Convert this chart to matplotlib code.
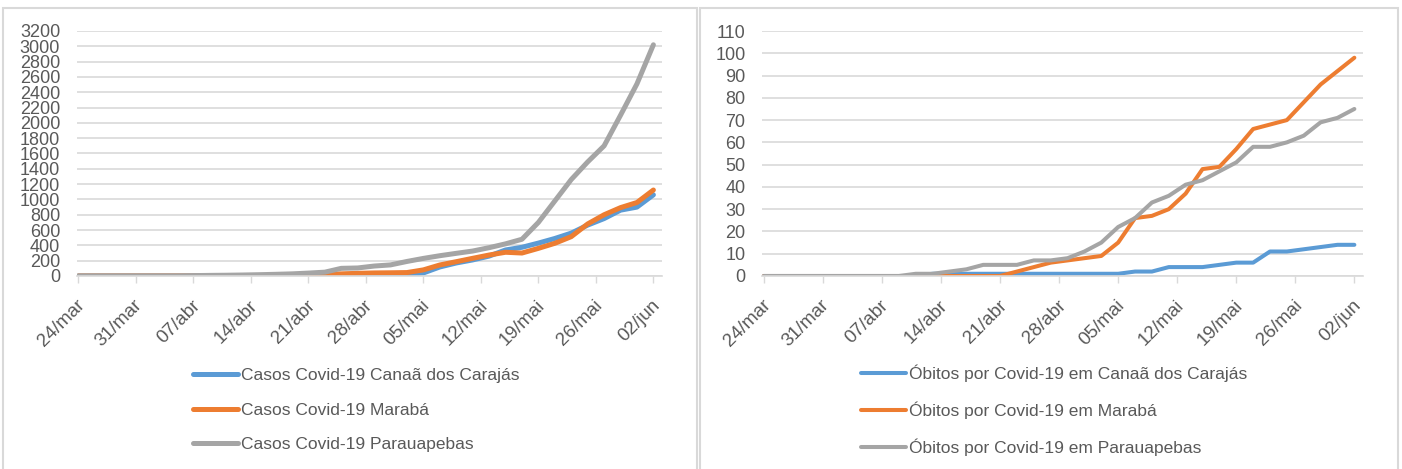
import numpy as np
import matplotlib
matplotlib.use('Agg')
import matplotlib.pyplot as plt
import matplotlib.transforms as mtransforms
from matplotlib.patches import Rectangle

plt.rcParams['font.family'] = ['Liberation Sans', 'DejaVu Sans']

# days since 24/mar, one reading every 2 days
days = list(range(0, 71, 2))
tick_days = [0, 7, 14, 21, 28, 35, 42, 49, 56, 63, 70]
tick_labels = ['24/mar', '31/mar', '07/abr', '14/abr', '21/abr', '28/abr',
               '05/mai', '12/mai', '19/mai', '26/mai', '02/jun']

# cases
casos_canaa = [0, 0, 0, 0, 0, 0, 0, 0, 0, 0, 0, 0, 0, 0, 0, 0, 2, 5, 8, 10,
               15, 40, 118, 170, 210, 260, 340, 375, 430, 490, 560, 665, 750, 860, 900, 1060]
casos_maraba = [0, 0, 0, 0, 0, 0, 0, 0, 0, 0, 0, 0, 2, 5, 12, 20, 28, 35, 40, 42,
                45, 80, 144, 187, 231, 274, 310, 300, 361, 427, 514, 680, 800, 893, 960, 1123]
casos_parauapebas = [0, 0, 0, 0, 0, 0, 0, 5, 8, 10, 13, 17, 22, 28, 38, 50, 100, 105, 130, 145,
                     190, 230, 265, 296, 326, 370, 420, 480, 700, 980, 1260, 1490, 1700, 2100, 2510, 3020]

# deaths
obitos_canaa = [0, 0, 0, 0, 0, 0, 0, 0, 0, 0, 1, 1, 1, 1, 1, 1, 1, 1, 1, 1,
                1, 1, 2, 2, 4, 4, 4, 5, 6, 6, 11, 11, 12, 13, 14, 14]
obitos_maraba = [0, 0, 0, 0, 0, 0, 0, 0, 0, 0, 0, 0, 0, 0, 0, 2, 4, 6, 7, 8,
                 9, 15, 26, 27, 30, 37, 48, 49, 57, 66, 68, 70, 78, 86, 92, 98]
obitos_parauapebas = [0, 0, 0, 0, 0, 0, 0, 0, 0, 1, 1, 2, 3, 5, 5, 5, 7, 7, 8, 11,
                      15, 22, 26, 33, 36, 41, 43, 47, 51, 58, 58, 60, 63, 69, 71, 75]

azul = '#5B9BD5'
laranja = '#ED7D31'
cinza = '#A5A5A5'
texto = '#595959'
grade = '#D9D9D9'

W, H = 1402, 469
fig = plt.figure(figsize=(W / 100, H / 100), dpi=100)

# panel borders
fig.patches.append(Rectangle((3 / W, -0.1), 694 / W, 1.1 - 8 / H, transform=fig.transFigure,
                             fill=False, edgecolor=grade, lw=1.5))
fig.patches.append(Rectangle((700 / W, -0.1), 698 / W, 1.1 - 8 / H, transform=fig.transFigure,
                             fill=False, edgecolor=grade, lw=1.5))

ax1 = fig.add_axes([76.8 / W, 1 - 276 / H, 584.8 / W, 245 / H])
ax2 = fig.add_axes([762.2 / W, 1 - 276 / H, 600.6 / W, 245 / H])


def estilo(ax, ymax, passo):
    ax.set_ylim(0, ymax)
    ax.set_xlim(-0.2, 71)
    ax.set_yticks(np.arange(0, ymax + 1, passo))
    ax.yaxis.grid(True, color=grade, lw=1.2)
    ax.set_axisbelow(True)
    for s in ['top', 'right', 'left']:
        ax.spines[s].set_visible(False)
    ax.spines['bottom'].set_color(grade)
    ax.spines['bottom'].set_linewidth(1.2)
    ax.tick_params(axis='y', length=0, pad=12, labelsize=13, labelcolor=texto)
    ax.tick_params(axis='x', length=5, width=1, color=grade, labelsize=13.5, labelcolor=texto, pad=10)
    ax.set_xticks(tick_days)
    ax.set_xticklabels(tick_labels, rotation=45, ha='right', va='top')
    off = mtransforms.ScaledTranslation(10 / 100, 0, fig.dpi_scale_trans)
    for lb in ax.get_xticklabels():
        lb.set_transform(lb.get_transform() + off)


estilo(ax1, 3200, 200)
estilo(ax2, 110, 10)

l1, = ax1.plot(days, casos_canaa, color=azul, lw=3.6, solid_capstyle='round')
l2, = ax1.plot(days, casos_maraba, color=laranja, lw=3.6, solid_capstyle='round')
l3, = ax1.plot(days, casos_parauapebas, color=cinza, lw=3.6, solid_capstyle='round')

m1, = ax2.plot(days, obitos_canaa, color=azul, lw=2.9, solid_capstyle='round')
m2, = ax2.plot(days, obitos_maraba, color=laranja, lw=2.9, solid_capstyle='round')
m3, = ax2.plot(days, obitos_parauapebas, color=cinza, lw=2.9, solid_capstyle='round')

fig.legend([l1, l2, l3],
           ['Casos Covid-19 Canaã dos Carajás', 'Casos Covid-19 Marabá', 'Casos Covid-19 Parauapebas'],
           loc='upper left', bbox_to_anchor=(193 / W, 1 - 368 / H), frameon=False,
           fontsize=12.5, labelcolor=texto, handlelength=2.6, handletextpad=0.15,
           labelspacing=1.12, borderpad=0, borderaxespad=0)
fig.legend([m1, m2, m3],
           ['Óbitos por Covid-19 em Canaã dos Carajás', 'Óbitos por Covid-19 em Marabá',
            'Óbitos por Covid-19 em Parauapebas'],
           loc='upper left', bbox_to_anchor=(861 / W, 1 - 365 / H), frameon=False,
           fontsize=12.5, labelcolor=texto, handlelength=2.6, handletextpad=0.15,
           labelspacing=1.12, borderpad=0, borderaxespad=0)

fig.savefig('out.png', dpi=100)
